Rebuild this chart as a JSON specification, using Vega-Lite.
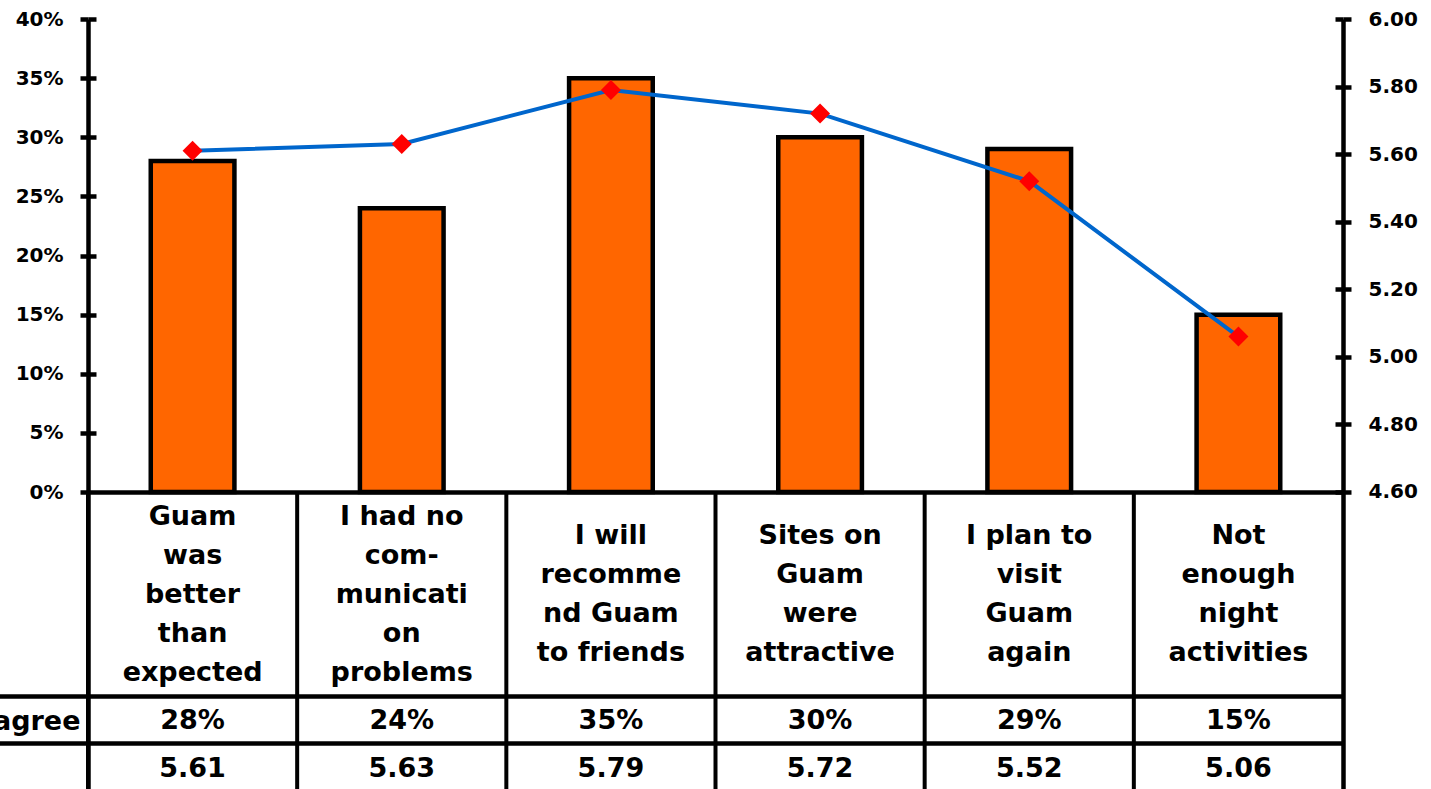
{
  "$schema": "https://vega.github.io/schema/vega-lite/v6.json",
  "width": 1255,
  "height": 770,
  "autosize": {"type": "none"},
  "padding": {"left": 88, "top": 19, "right": 88, "bottom": 0},
  "background": "white",
  "config": {"view": {"stroke": null}, "font": "DejaVu Sans"},
  "data": {
    "values": [
      {"item": "Guam\nwas\nbetter\nthan\nexpected", "pct": 0.28, "mean": 5.61},
      {"item": "I had no\ncom-\nmunicati\non\nproblems", "pct": 0.24, "mean": 5.63},
      {"item": "I will\nrecomme\nnd Guam\nto friends", "pct": 0.35, "mean": 5.79},
      {"item": "Sites on\nGuam\nwere\nattractive", "pct": 0.30, "mean": 5.72},
      {"item": "I plan to\nvisit\nGuam\nagain", "pct": 0.29, "mean": 5.52},
      {"item": "Not\nenough\nnight\nactivities", "pct": 0.15, "mean": 5.06}
    ]
  },
  "encoding": {
    "x": {
      "field": "item",
      "type": "nominal",
      "sort": null,
      "axis": null,
      "scale": {"type": "band", "paddingInner": 0, "paddingOuter": 0}
    }
  },
  "layer": [
    {
      "layer": [
        {
          "mark": {"type": "rule", "stroke": "black", "strokeWidth": 4},
          "encoding": {
            "x": {"field": "item", "type": "nominal", "sort": null, "bandPosition": 0},
            "y": {"datum": 0},
            "y2": {"datum": -0.25116}
          }
        },
        {
          "mark": {"type": "bar", "fill": "#FF6600", "stroke": "black", "strokeWidth": 4.5, "width": {"band": 0.4}},
          "encoding": {
            "y": {
              "field": "pct",
              "type": "quantitative",
              "scale": {"domain": [-0.25116, 0.4], "nice": false},
              "axis": {
                "orient": "left",
                "title": null,
                "values": [0, 0.05, 0.1, 0.15, 0.2, 0.25, 0.3, 0.35, 0.4, -0.17252, -0.19366, -0.21226],
                "labelExpr": "datum.value >= 0 ? format(datum.value, '.0%') : (abs(datum.value + 0.19366) < 0.001 ? 'Strongly agree' : '')",
                "domainColor": "black",
                "domainWidth": 4.5,
                "tickColor": "black",
                "tickWidth": 4.5,
                "tickSize": {"condition": {"test": "datum.value < -0.1 && abs(datum.value + 0.19366) > 0.001", "value": 92}, "value": 8},
                "tickOpacity": {"condition": {"test": "abs(datum.value + 0.19366) < 0.001", "value": 0}, "value": 1},
                "labelPadding": {"condition": {"test": "datum.value < 0", "value": 0}, "value": 17},
                "labelFontSize": {"condition": {"test": "datum.value < 0", "value": 27}, "value": 20},
                "labelLimit": 500,
                "grid": true,
                "gridColor": "black",
                "gridWidth": 4.5,
                "gridDash": {"condition": {"test": "datum.value <= 0", "value": []}, "value": [8, 3000]},
                "gridOpacity": {"condition": {"test": "abs(datum.value + 0.19366) < 0.001", "value": 0}, "value": 1},
                "labelFont": "DejaVu Sans",
                "labelFontWeight": "bold",
                "labelColor": "black",
                "labelFlush": false,
                "labelOverlap": false,
                "labelBound": false
              }
            },
            "y2": {"datum": 0}
          }
        },
        {
          "mark": {
            "type": "text",
            "lineBreak": "\n",
            "fontSize": 27,
            "fontWeight": "bold",
            "font": "DejaVu Sans",
            "lineHeight": 39,
            "baseline": "middle",
            "align": "center",
            "color": "black",
            "dy": {"expr": "-19.5 * (length(split(datum.item, '\\n')) - 1)"}
          },
          "encoding": {
            "text": {"field": "item", "type": "nominal"},
            "y": {"datum": -0.0871}
          }
        },
        {
          "mark": {"type": "text", "fontSize": 27, "fontWeight": "bold", "font": "DejaVu Sans", "baseline": "middle", "align": "center", "color": "black"},
          "encoding": {
            "text": {"field": "pct", "type": "quantitative", "format": ".0%"},
            "y": {"datum": -0.19366}
          }
        },
        {
          "mark": {"type": "text", "fontSize": 27, "fontWeight": "bold", "font": "DejaVu Sans", "baseline": "middle", "align": "center", "color": "black"},
          "encoding": {
            "text": {"field": "mean", "type": "quantitative", "format": ".2f"},
            "y": {"datum": -0.23425}
          }
        }
      ]
    },
    {
      "encoding": {
        "y": {
          "field": "mean",
          "type": "quantitative",
          "scale": {"domain": [3.72093, 6.0], "nice": false, "zero": false},
          "axis": {
            "orient": "right",
            "title": null,
            "values": [4.6, 4.8, 5.0, 5.2, 5.4, 5.6, 5.8, 6.0],
            "format": ".2f",
            "domainColor": "black",
            "domainWidth": 4.5,
            "tickColor": "black",
            "tickWidth": 4.5,
            "tickSize": 8,
            "labelPadding": 17,
            "grid": true,
            "gridColor": "black",
            "gridWidth": 4.5,
            "gridDash": [8, 3000],
            "labelFont": "DejaVu Sans",
            "labelFontSize": 20,
            "labelFontWeight": "bold",
            "labelColor": "black",
            "labelFlush": false,
            "labelOverlap": false,
            "labelBound": false
          }
        }
      },
      "layer": [
        {"mark": {"type": "line", "stroke": "#0066CC", "strokeWidth": 4}},
        {"mark": {"type": "point", "shape": "diamond", "filled": true, "fill": "#FF0000", "size": 400, "opacity": 1, "strokeWidth": 0}}
      ]
    }
  ],
  "resolve": {"scale": {"y": "independent"}}
}
